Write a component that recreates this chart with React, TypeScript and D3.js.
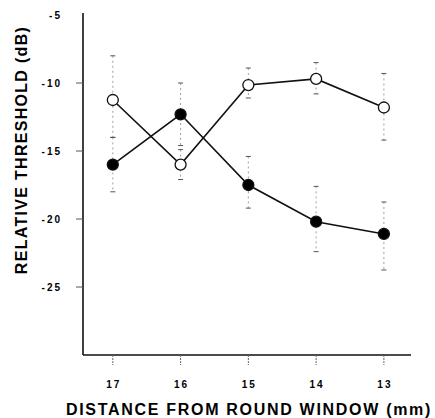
import React from 'react';
import * as d3 from 'd3';

const distances = [17, 16, 15, 14, 13];
const yTicks = [-5, -10, -15, -20, -25];

// open circles
const openMean = [-11.25, -16.0, -10.15, -9.7, -11.8];
const openHigh = [-8.0, -14.9, -8.9, -8.5, -9.3];
const openLow = [-14.0, -17.1, -11.1, -10.8, -14.2];

// filled circles
const filledMean = [-16.0, -12.3, -17.5, -20.2, -21.1];
const filledHigh = [-14.0, -10.0, -15.4, -17.6, -18.75];
const filledLow = [-18.0, -14.6, -19.2, -22.4, -23.75];

export default function App() {
  const ref = React.useRef<SVGSVGElement>(null);

  React.useEffect(() => {
    const svg = d3.select(ref.current);
    svg.selectAll('*').remove();

    const x = d3.scaleLinear().domain([17.44, 12.6]).range([83, 411]);
    const y = d3.scaleLinear().domain([-30, -5]).range([355, 15]);
    const font = '"Liberation Sans", Arial, sans-serif';

    // axes lines
    svg.append('line')
      .attr('x1', 83).attr('x2', 83)
      .attr('y1', 13).attr('y2', 355)
      .attr('stroke', '#111').attr('stroke-width', 1.6);
    svg.append('line')
      .attr('x1', 83).attr('x2', 411)
      .attr('y1', 355).attr('y2', 355)
      .attr('stroke', '#111').attr('stroke-width', 1.6);

    // y ticks
    const yt = svg.append('g');
    yt.selectAll('line')
      .data(yTicks.filter(d => d !== -5))
      .enter().append('line')
      .attr('x1', 76).attr('x2', 83)
      .attr('y1', d => y(d)).attr('y2', d => y(d))
      .attr('stroke', '#555').attr('stroke-width', 1);
    yt.selectAll('text')
      .data(yTicks)
      .enter().append('text')
      .attr('x', 62)
      .attr('y', d => y(d) + 4)
      .attr('text-anchor', 'end')
      .attr('font-family', font)
      .attr('font-weight', 'bold')
      .attr('font-size', 10)
      .attr('letter-spacing', 2)
      .text(d => '-' + Math.abs(d));

    // x ticks
    const xt = svg.append('g');
    xt.selectAll('line')
      .data(distances)
      .enter().append('line')
      .attr('x1', d => x(d)).attr('x2', d => x(d))
      .attr('y1', 355).attr('y2', 365)
      .attr('stroke', '#666').attr('stroke-width', 1)
      .attr('stroke-dasharray', '2,1');
    xt.selectAll('text')
      .data(distances)
      .enter().append('text')
      .attr('x', d => x(d) + 1)
      .attr('y', 388)
      .attr('text-anchor', 'middle')
      .attr('font-family', font)
      .attr('font-weight', 'bold')
      .attr('font-size', 10)
      .attr('letter-spacing', 2)
      .text(d => d);

    // titles
    svg.append('text')
      .attr('transform', `translate(27,150) rotate(-90)`)
      .attr('text-anchor', 'middle')
      .attr('font-family', font)
      .attr('font-weight', 'bold')
      .attr('font-size', 16)
      .attr('letter-spacing', 1.3)
      .text('RELATIVE THRESHOLD (dB)');
    svg.append('text')
      .attr('x', 249)
      .attr('y', 415)
      .attr('text-anchor', 'middle')
      .attr('font-family', font)
      .attr('font-weight', 'bold')
      .attr('font-size', 16)
      .attr('letter-spacing', 1.7)
      .text('DISTANCE FROM ROUND WINDOW (mm)');

    const series = [
      { mean: openMean, hi: openHigh, lo: openLow, fill: '#fff' },
      { mean: filledMean, hi: filledHigh, lo: filledLow, fill: '#000' },
    ];

    const line = d3.line<number>()
      .x((d, i) => x(distances[i]))
      .y(d => y(d));

    series.forEach(s => {
      const g = svg.append('g');
      // error bars
      distances.forEach((dist, i) => {
        const cx = x(dist);
        g.append('line')
          .attr('x1', cx).attr('x2', cx)
          .attr('y1', y(s.hi[i])).attr('y2', y(s.lo[i]))
          .attr('stroke', '#888').attr('stroke-width', 0.8)
          .attr('stroke-dasharray', '2,3');
        [s.hi[i], s.lo[i]].forEach(v => {
          g.append('line')
            .attr('x1', cx - 2.5).attr('x2', cx + 2.5)
            .attr('y1', y(v)).attr('y2', y(v))
            .attr('stroke', '#555').attr('stroke-width', 1);
        });
      });
    });

    series.forEach(s => {
      svg.append('path')
        .datum(s.mean)
        .attr('fill', 'none')
        .attr('stroke', '#111')
        .attr('stroke-width', 1.6)
        .attr('d', line);
    });

    series.forEach(s => {
      svg.append('g').selectAll('circle')
        .data(s.mean)
        .enter().append('circle')
        .attr('cx', (d, i) => x(distances[i]))
        .attr('cy', d => y(d))
        .attr('r', 5.5)
        .attr('fill', s.fill)
        .attr('stroke', '#111')
        .attr('stroke-width', 1.3);
    });
  }, []);

  return (
    <svg ref={ref} width={435} height={418}
      style={{ position: 'absolute', left: 0, top: 0, background: '#fff' }} />
  );
}
